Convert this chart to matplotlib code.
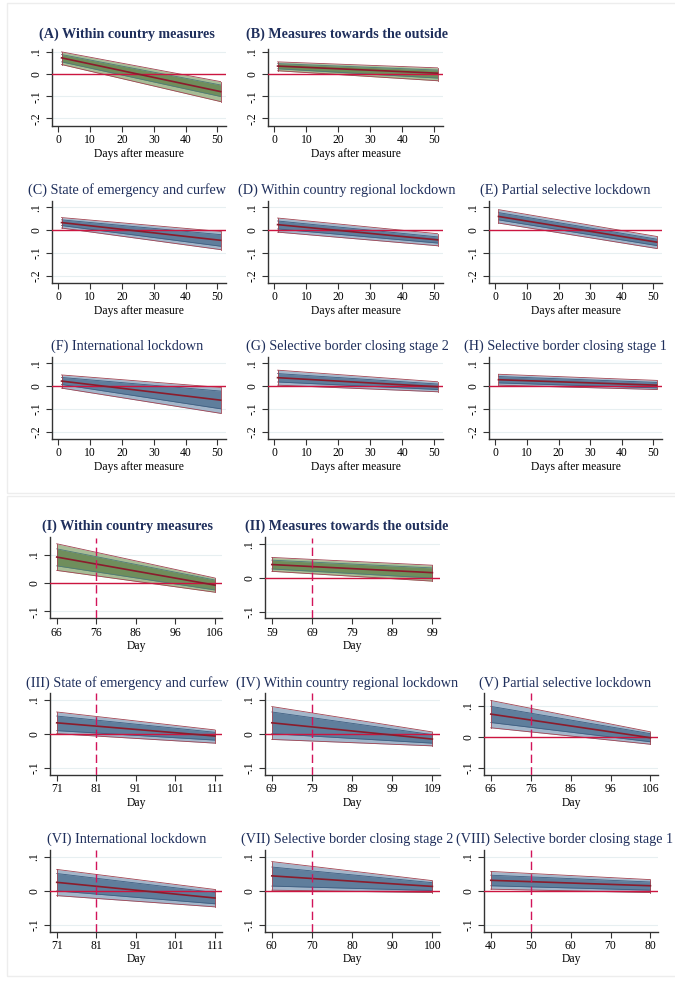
import matplotlib.pyplot as plt
from matplotlib.transforms import Bbox, TransformedBbox

plt.rcParams['font.family'] = ['Liberation Serif', 'DejaVu Serif']

# ---- upper block: days after measure (1..51) ----
top_days = [1, 51]
top_titles = ["(A) Within country measures", "(B) Measures towards the outside",
              "(C) State of emergency and curfew", "(D) Within country regional lockdown",
              "(E) Partial selective lockdown", "(F) International lockdown",
              "(G) Selective border closing stage 2", "(H) Selective border closing stage 1"]
top_fit = [(0.073, -0.079), (0.036, 0.004), (0.033, -0.045), (0.024, -0.043),
           (0.060, -0.053), (0.022, -0.062), (0.037, -0.003), (0.028, 0.004)]
top_hi95 = [(0.100, -0.034), (0.055, 0.028), (0.055, -0.006), (0.053, -0.016),
            (0.090, -0.028), (0.049, -0.006), (0.070, 0.019), (0.052, 0.025)]
top_lo95 = [(0.043, -0.124), (0.015, -0.030), (0.009, -0.086), (-0.009, -0.069),
            (0.031, -0.081), (-0.009, -0.120), (0.004, -0.025), (0.004, -0.015)]
top_hi90 = [(0.088, -0.049), (0.047, 0.018), (0.045, -0.020), (0.040, -0.030),
            (0.077, -0.040), (0.038, -0.022), (0.055, 0.009), (0.042, 0.016)]
top_lo90 = [(0.055, -0.101), (0.024, -0.018), (0.020, -0.071), (0.005, -0.057),
            (0.045, -0.068), (0.007, -0.100), (0.018, -0.015), (0.014, -0.008)]
top_yticks = [-0.2, -0.1, 0, 0.1]
top_xticks = [0, 10, 20, 30, 40, 50]

# ---- lower block: calendar day, 40-day windows ----
bot_titles = ["(I) Within country measures", "(II) Measures towards the outside",
              "(III) State of emergency and curfew", "(IV) Within country regional lockdown",
              "(V) Partial selective lockdown", "(VI) International lockdown",
              "(VII) Selective border closing stage 2", "(VIII) Selective border closing stage 1"]
bot_start = [66, 59, 71, 69, 66, 71, 60, 40]
bot_measure = [76, 69, 81, 79, 76, 81, 70, 50]
bot_fit = [(0.092, -0.007), (0.040, 0.016), (0.032, -0.007), (0.032, -0.016),
           (0.074, -0.002), (0.025, -0.021), (0.044, 0.013), (0.031, 0.015)]
bot_hi95 = [(0.139, 0.018), (0.061, 0.038), (0.064, 0.011), (0.080, 0.005),
            (0.118, 0.017), (0.063, 0.004), (0.086, 0.030), (0.057, 0.033)]
bot_lo95 = [(0.045, -0.032), (0.020, -0.009), (0.000, -0.028), (-0.017, -0.036),
            (0.030, -0.023), (-0.014, -0.047), (0.002, -0.005), (0.005, -0.005)]
bot_hi90 = [(0.121, 0.011), (0.053, 0.030), (0.052, 0.004), (0.064, -0.003),
            (0.099, 0.011), (0.051, -0.005), (0.070, 0.024), (0.046, 0.026)]
bot_lo90 = [(0.061, -0.024), (0.027, 0.000), (0.009, -0.019), (0.000, -0.028),
            (0.047, -0.015), (0.000, -0.038), (0.014, 0.001), (0.015, 0.002)]
bot_ylims = [(-0.124, 0.161), (-0.119, 0.12), (-0.122, 0.12), (-0.122, 0.12),
             (-0.122, 0.142), (-0.12, 0.12), (-0.12, 0.12), (-0.12, 0.12)]
bot_yticks = [-0.1, 0, 0.1]

W, H = 675, 982
fig = plt.figure(figsize=(W / 100, H / 100), dpi=100)

NAVY = '#1f2f5c'
GREEN = ('#a7bd96', '#6f8e5c', '#4f7a78')
BLUE = ('#a3b6ca', '#5f7e9c', '#3f5f82')


def box(l, t, r, b):
    return [l / W, 1 - b / H, (r - l) / W, (b - t) / H]


def ylab(v):
    return "0" if v == 0 else f"{v:.1f}".replace("0.", ".")


def title(text, xc, yc, cell, bold):
    t = fig.text(xc / W, 1 - yc / H, text, ha='center', va='center', fontsize=10.2,
                 color=NAVY, fontweight='bold' if bold else 'normal')
    # titles are cut at the edge of their graph cell, as in the original
    clip = TransformedBbox(Bbox([[cell[0] / W, 0], [cell[1] / W, 1]]), fig.transFigure)
    t.set_clip_box(clip)
    t.set_clip_on(True)


def panel(pos, x, fit, hi95, lo95, hi90, lo90, cols, yticks, ylim, xlim, xticks, xlabel):
    ax = fig.add_axes(pos)
    ax.set_facecolor('white')
    for y in yticks:
        ax.axhline(y, color='#e7eff1', lw=0.8, zorder=0)
    ax.fill_between(x, lo95, hi95, color=cols[0], lw=0, zorder=1)
    ax.plot(x, hi95, color='#a04452', lw=0.6, zorder=2)
    ax.plot(x, lo95, color='#a04452', lw=0.6, zorder=2)
    ax.fill_between(x, lo90, hi90, color=cols[1], lw=0, zorder=3)
    ax.plot(x, hi90, color=cols[2], lw=0.6, zorder=4)
    ax.plot(x, lo90, color=cols[2], lw=0.6, zorder=4)
    ax.plot([x[0], x[0]], [lo95[0], hi95[0]], color='#a04452', lw=0.6, zorder=4)
    ax.plot([x[1], x[1]], [lo95[1], hi95[1]], color='#a04452', lw=0.6, zorder=4)
    ax.axhline(0, color='#cc1540', lw=1.0, zorder=5)
    ax.plot(x, fit, color='#8b1c2c', lw=1.2, zorder=6)
    ax.set_xlim(xlim)
    ax.set_ylim(ylim)
    ax.set_xticks(xticks, [str(v) for v in xticks])
    ax.set_yticks(yticks, [ylab(v) for v in yticks], rotation=90, va='center')
    ax.tick_params(direction='out', length=4, width=0.8, labelsize=8.4, pad=2,
                   color='#333333')
    ax.tick_params(axis='y', pad=3)
    for s in ('top', 'right'):
        ax.spines[s].set_visible(False)
    for s in ('left', 'bottom'):
        ax.spines[s].set_color('#333333')
        ax.spines[s].set_linewidth(1.0)
    ax.set_xlabel(xlabel, fontsize=8.4, labelpad=1)
    return ax


# section frames
for t, b in ((3, 493), (496, 976)):
    fig.add_artist(plt.Rectangle((7 / W, 1 - b / H), 1, (b - t) / H, fill=False,
                                 edgecolor='#ededed', lw=1.0, transform=fig.transFigure))

cells = [(0, 230), (230, 458), (454, 675)]
title_x = [127, 347, 565]

top_cols = [(52, 226), (268, 443), (489, 662)]
top_rows = [(49, 126, (-0.234, 0.113)), (201, 283, (-0.233, 0.128)), (357, 439, (-0.233, 0.128))]
top_title_y = [34, 190, 346]
slots = [(0, 0), (0, 1), (1, 0), (1, 1), (1, 2), (2, 0), (2, 1), (2, 2)]

for i, (r, c) in enumerate(slots):
    t, b, ylim = top_rows[r]
    l, rr = top_cols[c]
    cols = GREEN if r == 0 else BLUE
    panel(box(l, t, rr, b), top_days, top_fit[i], top_hi95[i], top_lo95[i],
          top_hi90[i], top_lo90[i], cols, top_yticks, ylim, (-2, 52.7), top_xticks,
          "Days after measure")
    title(top_titles[i], title_x[c], top_title_y[r], cells[c], r == 0)

bot_cols = [(50, 222.5), (265, 440), (484, 658)]
bot_rows = [(537.5, 618.3), (693, 775), (850, 931.7)]
bot_title_y = [526, 683, 839]

for i, (r, c) in enumerate(slots):
    t, b = bot_rows[r]
    l, rr = bot_cols[c]
    cols = GREEN if r == 0 else BLUE
    x0 = bot_start[i]
    x = [x0, x0 + 40]
    ax = panel(box(l, t, rr, b), x, bot_fit[i], bot_hi95[i], bot_lo95[i],
               bot_hi90[i], bot_lo90[i], cols, bot_yticks, bot_ylims[i],
               (x0 - 1.7, x0 + 41.9), [x0 + k for k in range(0, 41, 10)], "Day")
    ax.axvline(bot_measure[i], color='#d2145a', lw=1.0, dashes=(6, 3), zorder=7)
    title(bot_titles[i], title_x[c], bot_title_y[r], cells[c], r == 0)

fig.savefig("out.png", dpi=100, facecolor='white')
